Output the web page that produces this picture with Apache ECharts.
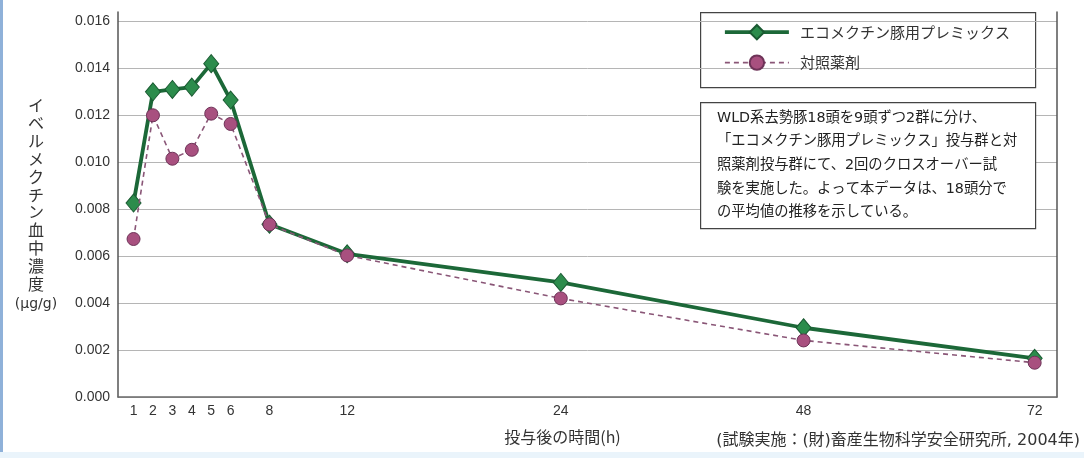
<!DOCTYPE html>
<html>
<head>
<meta charset="utf-8">
<script src="https://cdn.jsdelivr.net/npm/echarts@6/dist/echarts.min.js"></script>
<style>
html,body{margin:0;padding:0;background:#fff;}
#c{width:1084px;height:458px;}
</style>
</head>
<body>
<div id="c"></div>
<script>
// ---- data ----
const hours = [1, 2, 3, 4, 5, 6, 8, 12, 24, 48, 72];
const ecomectin = [0.00826, 0.0130, 0.0131, 0.0132, 0.0142, 0.01265, 0.00736, 0.0061, 0.00488, 0.00295, 0.00165];
const control = [0.00673, 0.0120, 0.01015, 0.01053, 0.01207, 0.01163, 0.00735, 0.00603, 0.0042, 0.00241, 0.00146];
const yTicks = [0, 0.002, 0.004, 0.006, 0.008, 0.010, 0.012, 0.014, 0.016];
const seriesNames = ['エコメクチン豚用プレミックス', '対照薬剤'];
const noteLines = [
  'WLD系去勢豚18頭を9頭ずつ2群に分け、',
  '「エコメクチン豚用プレミックス」投与群と対',
  '照薬剤投与群にて、2回のクロスオーバー試',
  '験を実施した。よって本データは、18頭分で',
  'の平均値の推移を示している。'
];
const xTitle = '投与後の時間(h)';
const yTitle = 'イベルメクチン血中濃度';
const yUnit = '(μg/g)';
const source = '(試験実施：(財)畜産生物科学安全研究所, 2004年)';

// ---- the chart's non-uniform time axis (piecewise scale) ----
const axisKnotHours = [0, 12, 24, 48, 72];
const axisKnotUnits = [0, 12, 23.0, 35.5, 47.4];
function timeScale(h) {
  for (let i = 1; i < axisKnotHours.length; i++) {
    if (h <= axisKnotHours[i]) {
      const h0 = axisKnotHours[i - 1], h1 = axisKnotHours[i];
      const u0 = axisKnotUnits[i - 1], u1 = axisKnotUnits[i];
      return u0 + (h - h0) / (h1 - h0) * (u1 - u0);
    }
  }
  return axisKnotUnits[axisKnotUnits.length - 1];
}
const tickUnits = hours.map(timeScale);
const unitToLabel = {};
tickUnits.forEach((u, i) => { unitToLabel[u.toFixed(4)] = String(hours[i]); });

const font = "'Liberation Sans', Arial, sans-serif";
const jfont = "'Noto Sans CJK JP', 'Noto Sans', sans-serif";
const mixfont = "'DejaVu Sans', 'Noto Sans CJK JP', sans-serif";

// the frame runs a little above the top tick
const yFrameMax = 0.0164;
const yLabelSet = {};
yTicks.forEach(t => { yLabelSet[t.toFixed(3)] = true; });

const chart = echarts.init(document.getElementById('c'));
chart.setOption({
  animation: false,
  backgroundColor: '#ffffff',
  grid: { left: 118, right: 27, top: 12, bottom: 61, containLabel: false },
  xAxis: {
    type: 'value',
    min: 0.2,
    max: 48.55,
    name: xTitle,
    nameLocation: 'middle',
    nameGap: 32,
    nameTextStyle: { fontFamily: jfont, fontSize: 16, color: '#333', padding: [0, 50, 0, 0] },
    axisLine: { show: true, lineStyle: { color: '#6a6a6a', width: 1.5 } },
    axisTick: { show: false },
    splitLine: { show: false },
    axisLabel: {
      customValues: tickUnits,
      showMinLabel: true, showMaxLabel: true,
      formatter: v => unitToLabel[Number(v).toFixed(4)] || '',
      fontFamily: font, fontSize: 14, color: '#333', margin: 7
    }
  },
  yAxis: [{
    type: 'value',
    min: yTicks[0],
    max: yFrameMax,
    interval: 0.002,
    axisLine: { show: true, lineStyle: { color: '#555', width: 1.5 } },
    axisTick: { show: false },
    splitLine: { show: true, showMaxLine: false, lineStyle: { color: '#b5b5b5', width: 1 } },
    axisLabel: { showMaxLabel: false, formatter: v => v.toFixed(3), fontFamily: font, fontSize: 14, color: '#333', margin: 8 }
  }, {
    type: 'value',
    position: 'right',
    min: yTicks[0],
    max: yFrameMax,
    interval: 0.002,
    axisLine: { show: true, lineStyle: { color: '#555', width: 1.5 } },
    axisTick: { show: false },
    axisLabel: { show: false },
    splitLine: { show: false }
  }],
  legend: {
    orient: 'vertical',
    left: 723,
    top: 24,
    itemWidth: 64,
    itemHeight: 18,
    itemGap: 14,
    padding: 0,
    lineStyle: { width: 'inherit' },
    textStyle: { fontFamily: jfont, fontSize: 15, color: '#333', padding: [0, 0, 0, 6] },
    data: seriesNames
  },
  series: [{
    name: seriesNames[0],
    type: 'line',
    data: hours.map((h, i) => [tickUnits[i], ecomectin[i]]),
    symbol: 'diamond',
    symbolSize: [15, 18],
    lineStyle: { color: '#1c6838', width: 3.8 },
    itemStyle: { color: '#2c8c4c', borderColor: '#1a5a32', borderWidth: 1 },
    z: 2
  }, {
    name: seriesNames[1],
    type: 'line',
    data: hours.map((h, i) => [tickUnits[i], control[i]]),
    symbol: 'circle',
    symbolSize: 13,
    lineStyle: { color: '#8a5677', width: 1.6, type: [5, 4] },
    itemStyle: { color: '#a8507f', borderColor: '#6e3358', borderWidth: 1 },
    z: 3
  }],
  graphic: [
    { type: 'rect', left: 0, top: 0, shape: { width: 3, height: 458 }, style: { fill: '#8fb1d9' }, silent: true },
    { type: 'rect', left: 0, top: 452, shape: { width: 1084, height: 6 }, style: { fill: '#eaf4fb' }, silent: true },
    { type: 'rect', left: 700, top: 12, shape: { width: 335, height: 75 }, style: { fill: 'rgba(255,255,255,0)', stroke: '#444', lineWidth: 1.2 }, z: -1, silent: true },
    { type: 'rect', left: 700, top: 102, shape: { width: 335, height: 126 }, style: { fill: '#ffffff', stroke: '#444', lineWidth: 1.2 }, z: 10, silent: true },
    { type: 'text', left: 717, top: 106, z: 11, silent: true,
      style: { text: noteLines.join('\n'), fontFamily: mixfont, fontSize: 14.3, lineHeight: 23.7, fill: '#222' } },
    { type: 'text', x: 36, y: 96, z: 11, silent: true,
      style: {
        text: '{a|' + yTitle.split('').join('\n') + '}\n{b|' + yUnit + '}',
        align: 'center', verticalAlign: 'top',
        rich: {
          a: { fontFamily: jfont, fontSize: 16, lineHeight: 17.9, fill: '#333', align: 'center' },
          b: { fontFamily: mixfont, fontSize: 14, lineHeight: 22, fill: '#333', align: 'center' }
        }
      } },
    { type: 'text', right: 4, top: 433, z: 11, silent: true,
      style: { text: source, fontFamily: mixfont, fontSize: 16, fill: '#333' } }
  ]
});
</script>
</body>
</html>
